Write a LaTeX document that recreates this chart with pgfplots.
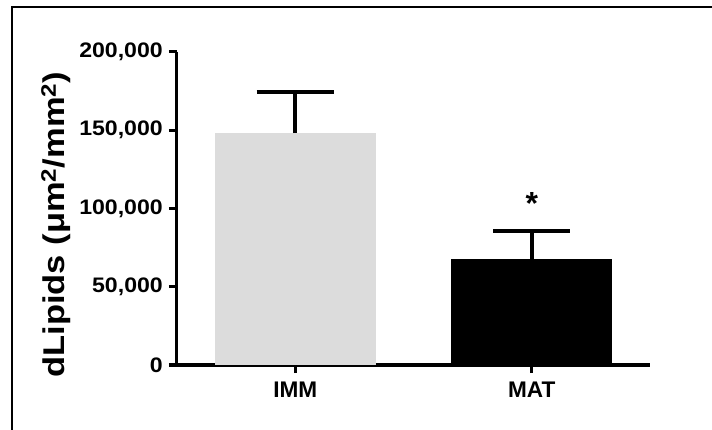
\documentclass[border=0pt]{standalone}
\usepackage{fontspec}
\setmainfont{Liberation Sans}
\newfontfamily\wb{Liberation Sans Bold}[FakeStretch=1.1]
\newfontfamily\wl{Liberation Sans Bold}[FakeStretch=1.15]
\newfontfamily\nb{Liberation Sans Bold}
\usepackage{pgfplots}
\pgfplotsset{compat=1.18}
\definecolor{immgray}{RGB}{220,220,220}
\begin{document}
\begin{tikzpicture}
\begin{axis}[
  at={(0,0)}, anchor=south west,
  scale only axis, width=473bp, height=313.3bp,
  xmin=-0.5, xmax=1.5, ymin=0, ymax=200000,
  axis x line*=bottom, axis y line*=left,
  axis line style={line width=3bp, -},
  every tick/.style={line width=3bp, black},
  tick align=outside, major tick length=8bp,
  xtick={0,1}, xticklabels={IMM,MAT},
  ytick={0,50000,100000,150000,200000},
  yticklabels={0,{50,000},{100,000},{150,000},{200,000}},
  scaled y ticks=false,
  xtick pos=bottom, ytick pos=left,
  xticklabel style={font=\nb\fontsize{22.6bp}{24bp}\selectfont, inner sep=0pt, anchor=north, yshift=-9bp},
  yticklabel style={font=\wb\fontsize{21bp}{23bp}\selectfont, inner sep=0pt, anchor=east, xshift=-6bp},
  ylabel={dLipids (μm\textsuperscript{2}/mm\textsuperscript{2})},
  ylabel style={font=\wl\fontsize{30bp}{32bp}\selectfont, at={(axis description cs:-0.237,0.448)}, anchor=base, inner sep=0pt},
  ybar, bar width=161bp, bar shift=0pt,
  clip=false,
]
\addplot[ybar, fill=immgray, draw=none,
  error bars/.cd, y dir=plus, y explicit, error mark=|,
  error bar style={line width=4bp, draw=black, solid},
  error mark options={line width=4bp, mark size=38.5bp, draw=black, solid}]
  coordinates {(0,148000) +- (0,26500)};
\addplot[ybar, fill=black, draw=none,
  error bars/.cd, y dir=plus, y explicit, error mark=|,
  error bar style={line width=4bp, draw=black, solid},
  error mark options={line width=4bp, mark size=38.5bp, draw=black, solid}]
  coordinates {(1,67700) +- (0,18100)};
\node[anchor=north, inner sep=0pt, font=\nb\fontsize{32bp}{34bp}\selectfont] at (axis cs:1,110000) {*};
\end{axis}
\draw[line width=1.7bp] (-165.3bp,-80bp) -- (-165.3bp,358.3bp) -- (560bp,358.3bp);
\pgfresetboundingbox
\path (-177bp,-65bp) rectangle (535bp,365bp);
\end{tikzpicture}
\end{document}
